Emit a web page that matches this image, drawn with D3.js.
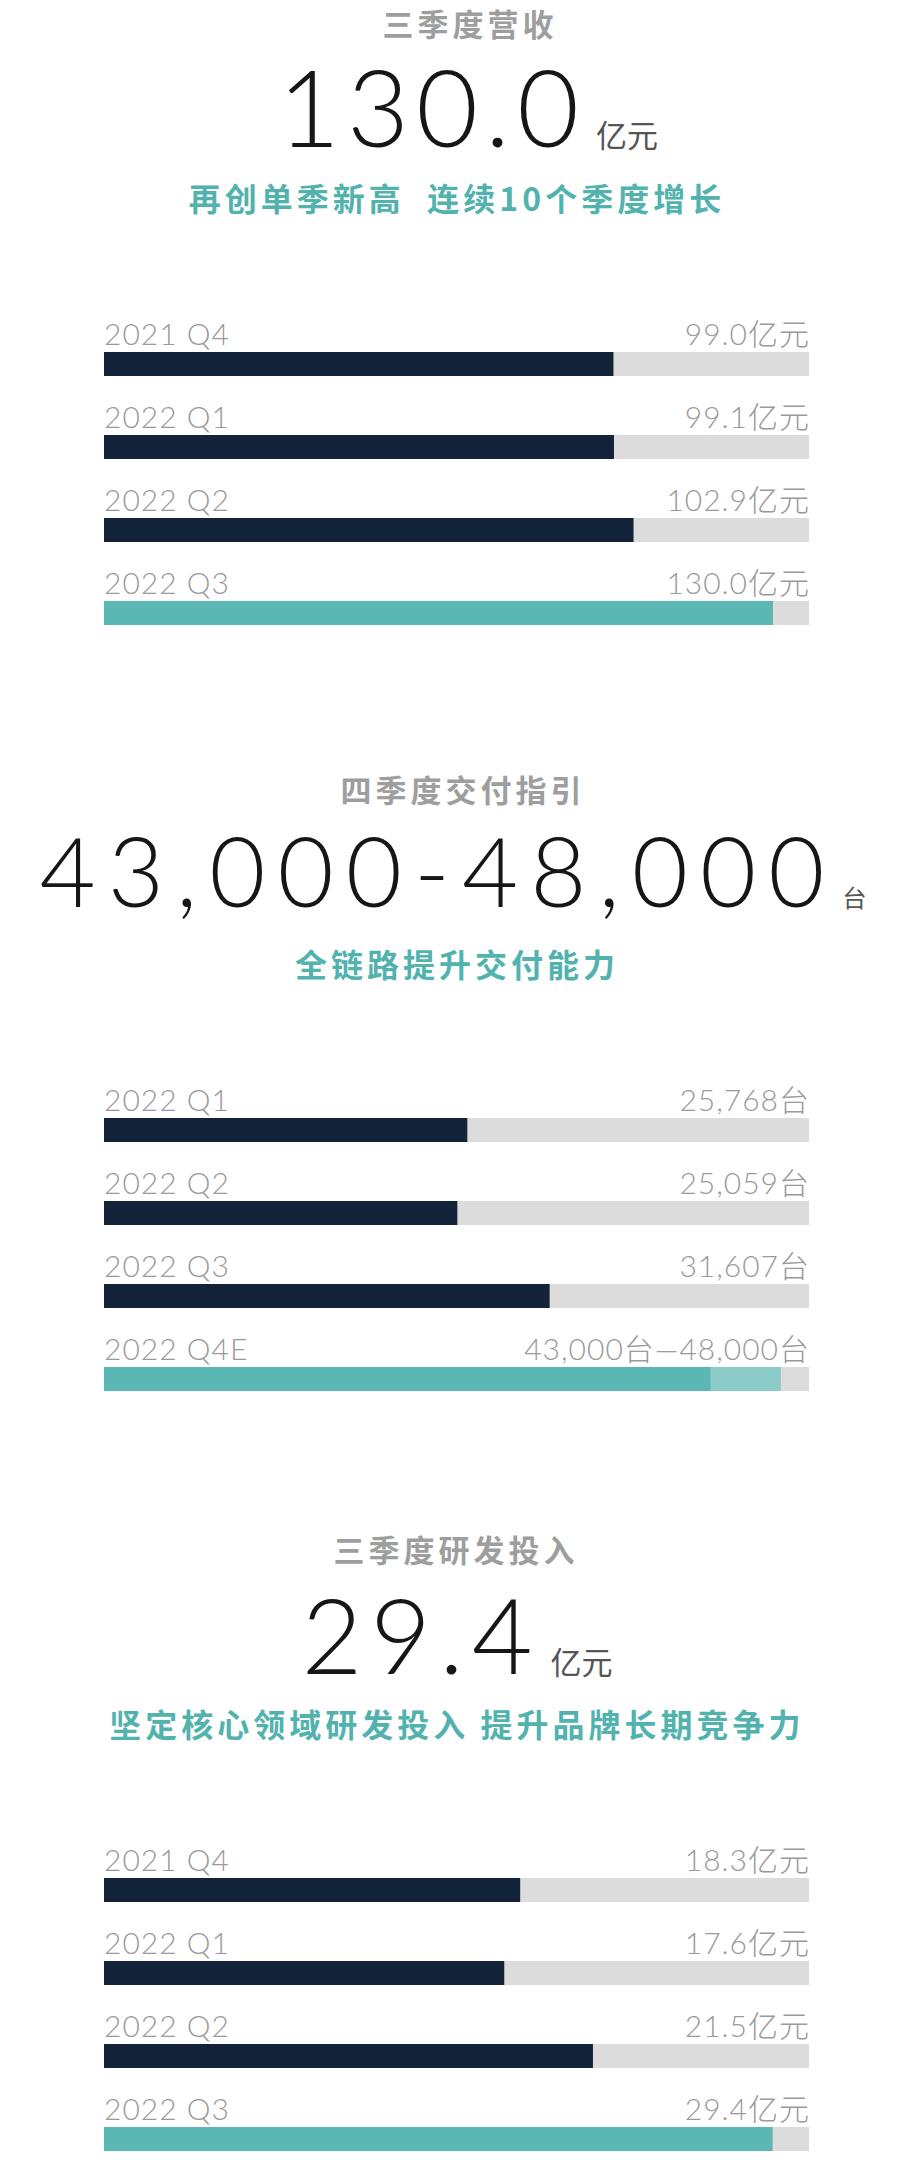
<!DOCTYPE html>
<html lang="zh">
<head>
<meta charset="UTF-8">
<title>三季度营收 / 四季度交付指引 / 三季度研发投入</title>
<style>
    body, html {
        margin: 0;
        padding: 0;
        background: #ffffff;
    }
    svg {
        display: block;
    }
    .title {
        font-family: "Noto Sans CJK SC", sans-serif;
        font-weight: 700;
        font-size: 31px;
        letter-spacing: 4px;
        fill: #9e9e9e;
    }
    .subtitle {
        font-family: "Noto Sans CJK SC", sans-serif;
        font-weight: 700;
        font-size: 32px;
        letter-spacing: 4px;
        fill: #52b3ae;
        white-space: pre;
    }
    .headline {
        font-family: Lato, "Noto Sans CJK SC", sans-serif;
        font-weight: 300;
        fill: #161616;
    }
    .unit {
        font-family: "Noto Sans CJK SC", sans-serif;
        font-weight: 400;
        fill: #555555;
    }
    .row-label, .row-value {
        font-family: Lato, "Noto Sans CJK SC", sans-serif;
        font-weight: 300;
        font-size: 30px;
        letter-spacing: 1px;
        fill: #9a9a9a;
    }
</style>
</head>
<body>
<div id="chart"></div>

<script src="https://d3js.org/d3.v7.min.js"></script>
<script>
    // ---- data ----
    const sectionTitles = ["三季度营收", "四季度交付指引", "三季度研发投入"];
    const headlineValues = ["130.0", "43,000-48,000", "29.4"];
    const headlineUnits = ["亿元", "台", "亿元"];
    const subtitles = ["再创单季新高  连续10个季度增长", "全链路提升交付能力", "坚定核心领域研发投入 提升品牌长期竞争力"];

    const revenueQuarters = ["2021 Q4", "2022 Q1", "2022 Q2", "2022 Q3"];
    const revenueValues = [99.0, 99.1, 102.9, 130.0];

    const deliveryQuarters = ["2022 Q1", "2022 Q2", "2022 Q3", "2022 Q4E"];
    const deliveryValues = [25768, 25059, 31607, 43000];
    const deliveryUpper = [null, null, null, 48000];

    const rdQuarters = ["2021 Q4", "2022 Q1", "2022 Q2", "2022 Q3"];
    const rdValues = [18.3, 17.6, 21.5, 29.4];

    // full length of the grey track, per section
    const trackMax = [137, 50000, 31];

    const fmtYi = d => d3.format(".1f")(d) + "亿元";
    const fmtTai = d => d3.format(",")(d) + "台";

    const sections = [
        { quarters: revenueQuarters, values: revenueValues, upper: null, fmt: fmtYi },
        { quarters: deliveryQuarters, values: deliveryValues, upper: deliveryUpper, fmt: fmtTai },
        { quarters: rdQuarters, values: rdValues, upper: null, fmt: fmtYi }
    ];

    // ---- layout ----
    const width = 914, height = 2170;
    const barLeft = 104, barRight = 809, barH = 24, rowStep = 83;
    const sectionTop = [0, 766, 1526];
    const titleCx = [470, 463, 456];
    const headCx = [468, 453, 457];
    const headSize = [107, 97, 105];
    const headBase = [147, 141, 148];
    const unitSize = [31, 24, 31];
    const unitGap = [10, 6, 10];
    const headSpacing = [7, 12, 8];

    const colors = {
        track: "#dcdcdd",
        bar: "#13243a",
        highlight: "#5ab7b3",
        range: "#8bcbc8"
    };

    const svg = d3.select("#chart")
        .append("svg")
        .attr("width", width)
        .attr("height", height);

    svg.append("rect")
        .attr("width", width)
        .attr("height", height)
        .attr("fill", "#fff");

    sections.forEach((sec, i) => {
        const g = svg.append("g")
            .attr("transform", `translate(0,${sectionTop[i]})`);

        g.append("text")
            .attr("class", "title")
            .attr("x", titleCx[i])
            .attr("y", 36)
            .attr("text-anchor", "middle")
            .text(sectionTitles[i]);

        const head = g.append("text")
            .attr("x", headCx[i])
            .attr("y", headBase[i])
            .attr("text-anchor", "middle");
        head.append("tspan")
            .attr("class", "headline")
            .style("font-size", headSize[i] + "px")
            .style("letter-spacing", headSpacing[i] + "px")
            .text(headlineValues[i]);
        head.append("tspan")
            .attr("class", "unit")
            .attr("dx", unitGap[i])
            .style("font-size", unitSize[i] + "px")
            .text(headlineUnits[i]);

        g.append("text")
            .attr("class", "subtitle")
            .attr("x", 457)
            .attr("y", 211)
            .attr("text-anchor", "middle")
            .text(subtitles[i]);

        const x = d3.scaleLinear()
            .domain([0, trackMax[i]])
            .range([barLeft, barRight]);

        const y = d3.scaleBand()
            .domain(sec.quarters)
            .range([352, 352 + rowStep * sec.quarters.length]);

        const last = sec.quarters.length - 1;

        const rows = g.selectAll(".row")
            .data(sec.quarters)
            .join("g")
            .attr("class", "row")
            .attr("transform", d => `translate(0,${y(d)})`);

        rows.append("rect")
            .attr("x", x(0))
            .attr("width", x(trackMax[i]) - x(0))
            .attr("height", barH)
            .attr("fill", colors.track);

        // upper end of a forecast range
        rows.filter((d, j) => sec.upper && sec.upper[j] != null)
            .append("rect")
            .attr("x", x(0))
            .attr("width", (d) => x(sec.upper[sec.quarters.indexOf(d)]) - x(0))
            .attr("height", barH)
            .attr("fill", colors.range);

        rows.append("rect")
            .attr("x", x(0))
            .attr("width", (d, j) => x(sec.values[j]) - x(0))
            .attr("height", barH)
            .attr("fill", (d, j) => j === last ? colors.highlight : colors.bar);

        rows.append("text")
            .attr("class", "row-label")
            .attr("x", barLeft)
            .attr("y", -7)
            .text(d => d);

        rows.append("text")
            .attr("class", "row-value")
            .attr("x", barRight + 1)
            .attr("y", -7)
            .attr("text-anchor", "end")
            .text((d, j) => {
                if (sec.upper && sec.upper[j] != null) {
                    return sec.fmt(sec.values[j]) + "—" + sec.fmt(sec.upper[j]);
                }
                return sec.fmt(sec.values[j]);
            });
    });
</script>
</body>
</html>
